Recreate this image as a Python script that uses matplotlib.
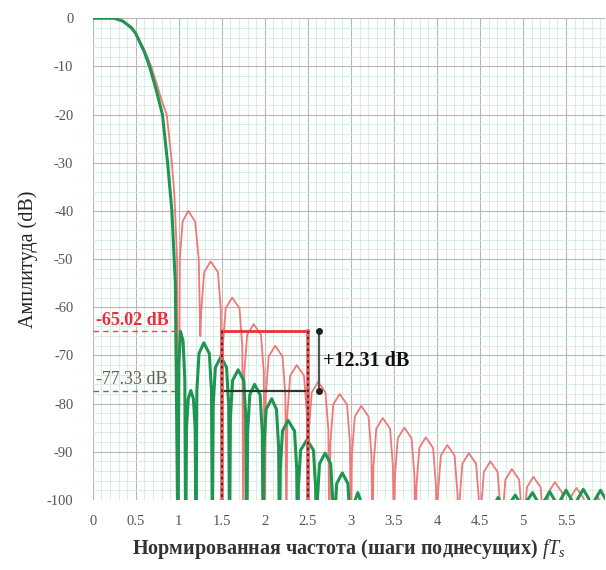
import matplotlib
matplotlib.use("Agg")
import matplotlib.pyplot as plt
from matplotlib.ticker import MultipleLocator

plt.rcParams["font.family"] = ["Liberation Serif", "DejaVu Serif"]
plt.rcParams["mathtext.fontset"] = "custom"
plt.rcParams["mathtext.rm"] = "Liberation Serif"
plt.rcParams["mathtext.it"] = "Liberation Serif:italic"
plt.rcParams["mathtext.bf"] = "Liberation Serif:bold"
plt.rcParams["axes.unicode_minus"] = False

# red spectrum (wider sidelobes)
red_pts = [
    (0.00, 0), (0.25, 0), (0.35, -0.5), (0.45, -1.8), (0.50, -3), (0.60, -6.5),
    (0.68, -10), (0.75, -14), (0.80, -17), (0.86, -20), (0.92, -30), (0.95, -37),
    (0.98, -50), (1.00, -110),
    (1.012, -50), (1.045, -42.2), (1.11, -40), (1.19, -42.2), (1.232, -50), (1.25, -66),
    (1.262, -60.5), (1.295, -52.7), (1.37, -50.5), (1.455, -52.7), (1.488, -60.5), (1.50, -110),
    (1.512, -68), (1.545, -60.2), (1.62, -58), (1.705, -60.2), (1.738, -68), (1.75, -110),
    (1.762, -73.5), (1.795, -65.7), (1.87, -63.5), (1.955, -65.7), (1.988, -73.5), (2.00, -110),
    (2.012, -78), (2.045, -70.2), (2.12, -68), (2.205, -70.2), (2.238, -78), (2.25, -110),
    (2.262, -82), (2.295, -74.2), (2.37, -72), (2.455, -74.2), (2.488, -82), (2.50, -110),
    (2.512, -85.5), (2.545, -77.7), (2.62, -75.5), (2.705, -77.7), (2.738, -85.5), (2.75, -110),
    (2.762, -88), (2.795, -80.2), (2.87, -78), (2.955, -80.2), (2.988, -88), (3.00, -110),
    (3.012, -90.5), (3.045, -82.7), (3.12, -80.5), (3.205, -82.7), (3.238, -90.5), (3.25, -110),
    (3.262, -93), (3.295, -85.2), (3.37, -83), (3.455, -85.2), (3.488, -93), (3.50, -110),
    (3.512, -95), (3.545, -87.2), (3.62, -85), (3.705, -87.2), (3.738, -95), (3.75, -110),
    (3.762, -97), (3.795, -89.2), (3.87, -87), (3.955, -89.2), (3.988, -97), (4.00, -110),
    (4.012, -98.6), (4.045, -90.8), (4.12, -88.6), (4.205, -90.8), (4.238, -98.6), (4.25, -110),
    (4.262, -100.3), (4.295, -92.5), (4.37, -90.3), (4.455, -92.5), (4.488, -100.3), (4.50, -110),
    (4.512, -102), (4.545, -94.2), (4.62, -92), (4.705, -94.2), (4.738, -102), (4.75, -110),
    (4.762, -103.6), (4.795, -95.8), (4.87, -93.6), (4.955, -95.8), (4.988, -103.6), (5.00, -110),
    (5.012, -105.2), (5.045, -97.4), (5.12, -95.2), (5.205, -97.4), (5.238, -105.2), (5.25, -110),
    (5.262, -106.3), (5.295, -98.5), (5.37, -96.3), (5.455, -98.5), (5.488, -106.3), (5.50, -110),
    (5.512, -107.5), (5.545, -99.7), (5.62, -97.5), (5.705, -99.7), (5.738, -107.5), (5.75, -110),
    (5.79, -103), (5.87, -99.3), (5.95, -103), (6.00, -110),
]

# green spectrum (narrower sidelobes)
green_pts = [
    (0.00, 0), (0.25, 0), (0.35, -0.6), (0.45, -2), (0.50, -3.2), (0.60, -7),
    (0.66, -10), (0.74, -15), (0.81, -20), (0.87, -30), (0.92, -40), (0.96, -55),
    (0.99, -110),
    (1.00, -72), (1.02, -65), (1.05, -67), (1.07, -75), (1.08, -110),
    (1.09, -85), (1.11, -79), (1.14, -77.3), (1.17, -79), (1.19, -85), (1.20, -110),
    (1.21, -77.4), (1.235, -69.6), (1.29, -67.4), (1.355, -69.6), (1.38, -77.4), (1.39, -110),
    (1.40, -80.3), (1.425, -72.5), (1.49, -70.3), (1.555, -72.5), (1.58, -80.3), (1.59, -110),
    (1.60, -83), (1.625, -75.2), (1.69, -73), (1.755, -75.2), (1.78, -83), (1.79, -110),
    (1.80, -86), (1.825, -78.2), (1.88, -76), (1.945, -78.2), (1.97, -86), (1.98, -110),
    (1.99, -89), (2.015, -81.2), (2.08, -79), (2.135, -81.2), (2.16, -89), (2.17, -110),
    (2.18, -93.5), (2.205, -85.7), (2.27, -83.5), (2.345, -85.7), (2.37, -93.5), (2.38, -110),
    (2.39, -97.5), (2.415, -89.7), (2.49, -87.5), (2.565, -89.7), (2.59, -97.5), (2.60, -110),
    (2.61, -100.3), (2.635, -92.5), (2.70, -90.3), (2.765, -92.5), (2.79, -100.3), (2.80, -110),
    (2.81, -104.4), (2.835, -96.6), (2.90, -94.4), (2.965, -96.6), (2.99, -104.4), (3.00, -110),
    (3.02, -104), (3.04, -100.5), (3.08, -98.5), (3.12, -100.5), (3.14, -104), (3.15, -110),
    (4.62, -110),
    (4.63, -106), (4.655, -101.5), (4.71, -99.5), (4.765, -101.5), (4.79, -106), (4.80, -110),
    (4.81, -106), (4.835, -101), (4.91, -99), (4.975, -101), (4.99, -106), (5.00, -110),
    (5.01, -106), (5.035, -100.5), (5.11, -98.5), (5.175, -100.5), (5.20, -106), (5.21, -110),
    (5.22, -106), (5.245, -100.3), (5.31, -98.3), (5.375, -100.3), (5.39, -106), (5.40, -110),
    (5.41, -106), (5.435, -100), (5.50, -98), (5.565, -100), (5.59, -106), (5.60, -110),
    (5.61, -106), (5.635, -99.8), (5.70, -97.8), (5.765, -99.8), (5.79, -106), (5.80, -110),
    (5.81, -106), (5.835, -100), (5.90, -98), (5.965, -100), (5.99, -106), (6.00, -110),
]

red_level = -65.02
green_level = -77.33
band = [1.5, 2.5]
gap_x = 2.63
x_ticks = [0, 0.5, 1, 1.5, 2, 2.5, 3, 3.5, 4, 4.5, 5, 5.5]
x_tick_labels = ["0", "0.5", "1", "1.5", "2", "2.5", "3", "3.5", "4", "4.5", "5", "5.5"]
y_ticks = [0, -10, -20, -30, -40, -50, -60, -70, -80, -90, -100]

RED = "#f07878"
GREEN = "#1f9552"

fig = plt.figure(figsize=(6.06, 5.70), dpi=100)
ax = fig.add_axes([0.153, 0.123, 0.845, 0.845])

ax.xaxis.set_minor_locator(MultipleLocator(0.1))
ax.yaxis.set_minor_locator(MultipleLocator(2))
ax.grid(which="minor", color="#cdeedd", linewidth=0.6)
ax.grid(which="major", color="#b8b8b8", linewidth=0.8)
ax.set_axisbelow(True)

ax.plot([p[0] for p in red_pts], [p[1] for p in red_pts], color=RED, linewidth=1.3, zorder=3)
ax.plot([p[0] for p in green_pts], [p[1] for p in green_pts], color=GREEN, linewidth=2.2, zorder=4)

# reference levels
ax.plot([0, 1.0], [red_level, red_level], color="#e84545", linestyle=(0, (4, 3)), linewidth=1.0, zorder=5)
ax.plot([0, 1.0], [green_level, green_level], color="#6a7060", linestyle=(0, (4, 3)), linewidth=1.0, zorder=5)
ax.plot(band, [red_level, red_level], color="#e8303a", linewidth=2.0, zorder=6)
ax.plot(band, [green_level, green_level], color="#2a3a2a", linewidth=1.6, zorder=6)
for bx in band:
    ax.plot([bx, bx], [red_level, -100], color="#e86060", linewidth=2.6, zorder=6)
    ax.plot([bx, bx], [red_level, -100], color="#222222", linewidth=1.2,
            linestyle=(0, (1.5, 2)), zorder=7)
ax.plot([gap_x, gap_x], [red_level, green_level], color="#555555", linewidth=1.6,
        marker="o", markersize=4, markerfacecolor="#222222", markeredgecolor="#222222", zorder=7)

ax.text(0.04, red_level + 0.6, f"{red_level:.2f} dB", color="#e8303a", fontsize=13,
        fontweight="bold", va="bottom", ha="left", zorder=8)
ax.text(0.04, green_level + 0.6, f"{green_level:.2f} dB", color="#5a6652", fontsize=13,
        va="bottom", ha="left", zorder=8)
ax.text(gap_x + 0.05, (red_level + green_level) / 2, f"+{red_level - green_level:.2f} dB",
        color="#111111", fontsize=14.5, fontweight="bold", va="center", ha="left", zorder=8)

ax.set_xlim(0, 5.95)
ax.set_ylim(-100, 0)
ax.set_xticks(x_ticks)
ax.set_xticklabels(x_tick_labels)
ax.set_yticks(y_ticks)
ax.tick_params(axis="both", which="both", length=0, labelsize=10.5, labelcolor="#555555")
ax.tick_params(axis="x", pad=11)
ax.tick_params(axis="y", pad=14)
for s in ax.spines.values():
    s.set_visible(False)

ax.set_xlabel(r"Нормированная частота (шаги поднесущих) $fT_s$", fontsize=14.5,
              fontweight="bold", color="#333333", labelpad=6)
ax.set_ylabel("Амплитуда (dB)", fontsize=14.5, color="#222222", labelpad=6)

fig.savefig("out.png", dpi=100)
